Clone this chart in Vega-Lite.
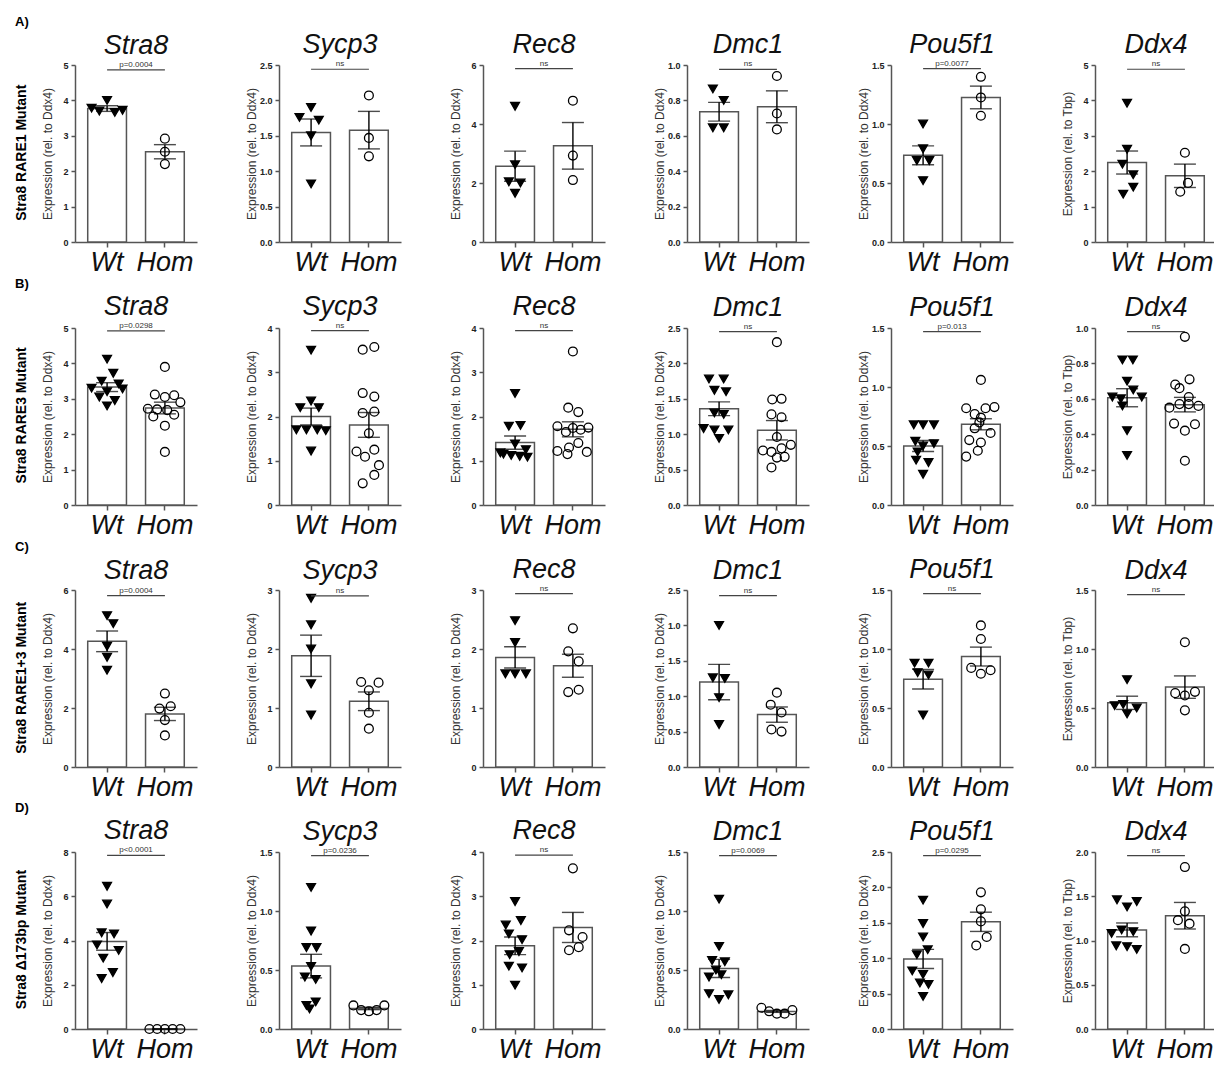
{
"$schema":"https://vega.github.io/schema/vega-lite/v6.json",
"padding":{"left":14,"top":15,"right":0,"bottom":0},
"spacing":2,
"config":{
 "view":{"stroke":null},
 "font":"Liberation Sans",
 "title":{"fontSize":27,"fontStyle":"italic","fontWeight":"normal","color":"#111","offset":1,"font":"Liberation Sans"},
 "axis":{"grid":false,"domainColor":"#555","domainWidth":1.5,"tickColor":"#555","tickWidth":1.5},
 "axisX":{"tickSize":5,"labelFontSize":27,"labelFontStyle":"italic","labelColor":"#111","labelPadding":2,"labelAngle":0,"labelFont":"Liberation Sans"},
 "axisY":{"tickSize":4,"labelFontWeight":"bold","labelFontSize":9,"labelColor":"#222","labelPadding":3,"labelOverlap":false,"minExtent":20,"maxExtent":20,"titleFontSize":12,"titleFontWeight":"normal","titleColor":"#333","titlePadding":1,"titleFont":"Liberation Sans Narrow, Liberation Sans"},
 "bar":{"fill":"white","stroke":"#555","strokeWidth":1.5},
 "point":{"stroke":"black","strokeWidth":1.3,"opacity":1,"size":78},
 "rule":{"color":"#444","strokeWidth":1.2},
 "text":{"baseline":"bottom","dy":-1,"fontSize":8,"color":"#333"},
 "legend":{"disable":true}
},
"datasets":{
"sum":[
{"panel":"A1","group":"Wt","mean":3.77,"sem":0.08},{"panel":"A1","group":"Hom","mean":2.55,"sem":0.2},
{"panel":"A2","group":"Wt","mean":1.547,"sem":0.19},{"panel":"A2","group":"Hom","mean":1.58,"sem":0.265},
{"panel":"A3","group":"Wt","mean":2.57,"sem":0.51},{"panel":"A3","group":"Hom","mean":3.26,"sem":0.79},
{"panel":"A4","group":"Wt","mean":0.736,"sem":0.053},{"panel":"A4","group":"Hom","mean":0.764,"sem":0.09},
{"panel":"A5","group":"Wt","mean":0.735,"sem":0.08},{"panel":"A5","group":"Hom","mean":1.225,"sem":0.096},
{"panel":"A6","group":"Wt","mean":2.245,"sem":0.325},{"panel":"A6","group":"Hom","mean":1.87,"sem":0.33},
{"panel":"B1","group":"Wt","mean":3.33,"sem":0.125},{"panel":"B1","group":"Hom","mean":2.74,"sem":0.165},
{"panel":"B2","group":"Wt","mean":2.0,"sem":0.19},{"panel":"B2","group":"Hom","mean":1.81,"sem":0.28},
{"panel":"B3","group":"Wt","mean":1.41,"sem":0.15},{"panel":"B3","group":"Hom","mean":1.71,"sem":0.17},
{"panel":"B4","group":"Wt","mean":1.36,"sem":0.097},{"panel":"B4","group":"Hom","mean":1.056,"sem":0.137},
{"panel":"B5","group":"Wt","mean":0.5,"sem":0.047},{"panel":"B5","group":"Hom","mean":0.684,"sem":0.047},
{"panel":"B6","group":"Wt","mean":0.606,"sem":0.051},{"panel":"B6","group":"Hom","mean":0.567,"sem":0.041},
{"panel":"C1","group":"Wt","mean":4.26,"sem":0.35},{"panel":"C1","group":"Hom","mean":1.8,"sem":0.225},
{"panel":"C2","group":"Wt","mean":1.885,"sem":0.35},{"panel":"C2","group":"Hom","mean":1.114,"sem":0.158},
{"panel":"C3","group":"Wt","mean":1.857,"sem":0.18},{"panel":"C3","group":"Hom","mean":1.716,"sem":0.195},
{"panel":"C4","group":"Wt","mean":1.2,"sem":0.25},{"panel":"C4","group":"Hom","mean":0.74,"sem":0.108},
{"panel":"C5","group":"Wt","mean":0.744,"sem":0.083},{"panel":"C5","group":"Hom","mean":0.936,"sem":0.08},
{"panel":"C6","group":"Wt","mean":0.544,"sem":0.056},{"panel":"C6","group":"Hom","mean":0.677,"sem":0.095},
{"panel":"D1","group":"Wt","mean":3.96,"sem":0.4},{"panel":"D1","group":"Hom","mean":0.0,"sem":0.0},
{"panel":"D2","group":"Wt","mean":0.533,"sem":0.1},{"panel":"D2","group":"Hom","mean":0.174,"sem":0.01},
{"panel":"D3","group":"Wt","mean":1.88,"sem":0.2},{"panel":"D3","group":"Hom","mean":2.295,"sem":0.34},
{"panel":"D4","group":"Wt","mean":0.513,"sem":0.077},{"panel":"D4","group":"Hom","mean":0.149,"sem":0.008},
{"panel":"D5","group":"Wt","mean":0.99,"sem":0.135},{"panel":"D5","group":"Hom","mean":1.514,"sem":0.136},
{"panel":"D6","group":"Wt","mean":1.12,"sem":0.078},{"panel":"D6","group":"Hom","mean":1.28,"sem":0.15}
],
"sig":[
{"panel":"A1","bracket":4.86,"label":"p=0.0004"},{"panel":"A2","bracket":2.44,"label":"ns"},{"panel":"A3","bracket":5.88,"label":"ns"},{"panel":"A4","bracket":0.975,"label":"ns"},{"panel":"A5","bracket":1.47,"label":"p=0.0077"},{"panel":"A6","bracket":4.88,"label":"ns"},
{"panel":"B1","bracket":4.92,"label":"p=0.0298"},{"panel":"B2","bracket":3.94,"label":"ns"},{"panel":"B3","bracket":3.94,"label":"ns"},{"panel":"B4","bracket":2.45,"label":"ns"},{"panel":"B5","bracket":1.47,"label":"p=0.013"},{"panel":"B6","bracket":0.98,"label":"ns"},
{"panel":"C1","bracket":5.81,"label":"p=0.0004"},{"panel":"C2","bracket":2.9,"label":"ns"},{"panel":"C3","bracket":2.94,"label":"ns"},{"panel":"C4","bracket":2.42,"label":"ns"},{"panel":"C5","bracket":1.47,"label":"ns"},{"panel":"C6","bracket":1.46,"label":"ns"},
{"panel":"D1","bracket":7.85,"label":"p<0.0001"},{"panel":"D2","bracket":1.47,"label":"p=0.0236"},{"panel":"D3","bracket":3.93,"label":"ns"},{"panel":"D4","bracket":1.47,"label":"p=0.0069"},{"panel":"D5","bracket":2.45,"label":"p=0.0295"},{"panel":"D6","bracket":1.96,"label":"ns"}
],
"pts":[
{"panel":"A1","group":"Wt","value":3.78,"lane":-2},{"panel":"A1","group":"Wt","value":3.7,"lane":-1},{"panel":"A1","group":"Wt","value":4.0,"lane":0},{"panel":"A1","group":"Wt","value":3.66,"lane":1},{"panel":"A1","group":"Wt","value":3.72,"lane":2},
{"panel":"A1","group":"Hom","value":2.92,"lane":0},{"panel":"A1","group":"Hom","value":2.55,"lane":0},{"panel":"A1","group":"Hom","value":2.2,"lane":0},
{"panel":"A2","group":"Wt","value":1.9,"lane":0},{"panel":"A2","group":"Wt","value":1.76,"lane":-1.5},{"panel":"A2","group":"Wt","value":1.72,"lane":1},{"panel":"A2","group":"Wt","value":1.5,"lane":0},{"panel":"A2","group":"Wt","value":0.82,"lane":0},
{"panel":"A2","group":"Hom","value":2.07,"lane":0},{"panel":"A2","group":"Hom","value":1.47,"lane":0},{"panel":"A2","group":"Hom","value":1.21,"lane":0},
{"panel":"A3","group":"Wt","value":4.6,"lane":0},{"panel":"A3","group":"Wt","value":2.62,"lane":0},{"panel":"A3","group":"Wt","value":2.04,"lane":-0.8},{"panel":"A3","group":"Wt","value":2.0,"lane":0.7},{"panel":"A3","group":"Wt","value":1.65,"lane":0},
{"panel":"A3","group":"Hom","value":4.79,"lane":0},{"panel":"A3","group":"Hom","value":2.93,"lane":0},{"panel":"A3","group":"Hom","value":2.1,"lane":0},
{"panel":"A4","group":"Wt","value":0.865,"lane":-0.8},{"panel":"A4","group":"Wt","value":0.8,"lane":0.6},{"panel":"A4","group":"Wt","value":0.645,"lane":-0.8},{"panel":"A4","group":"Wt","value":0.645,"lane":0.6},
{"panel":"A4","group":"Hom","value":0.938,"lane":0},{"panel":"A4","group":"Hom","value":0.726,"lane":0},{"panel":"A4","group":"Hom","value":0.636,"lane":0},
{"panel":"A5","group":"Wt","value":1.0,"lane":0},{"panel":"A5","group":"Wt","value":0.79,"lane":0},{"panel":"A5","group":"Wt","value":0.69,"lane":-0.8},{"panel":"A5","group":"Wt","value":0.69,"lane":0.8},{"panel":"A5","group":"Wt","value":0.52,"lane":0},
{"panel":"A5","group":"Hom","value":1.4,"lane":0},{"panel":"A5","group":"Hom","value":1.225,"lane":0},{"panel":"A5","group":"Hom","value":1.07,"lane":0},
{"panel":"A6","group":"Wt","value":3.92,"lane":0},{"panel":"A6","group":"Wt","value":2.62,"lane":0},{"panel":"A6","group":"Wt","value":2.2,"lane":-0.6},{"panel":"A6","group":"Wt","value":1.9,"lane":0.8},{"panel":"A6","group":"Wt","value":1.55,"lane":0.8},{"panel":"A6","group":"Wt","value":1.35,"lane":-0.5},
{"panel":"A6","group":"Hom","value":2.52,"lane":0},{"panel":"A6","group":"Hom","value":1.67,"lane":0.4},{"panel":"A6","group":"Hom","value":1.42,"lane":-0.6},
{"panel":"B1","group":"Wt","value":4.12,"lane":0},{"panel":"B1","group":"Wt","value":3.72,"lane":0.8},{"panel":"B1","group":"Wt","value":3.5,"lane":-0.7},{"panel":"B1","group":"Wt","value":3.42,"lane":1.5},{"panel":"B1","group":"Wt","value":3.3,"lane":-2},{"panel":"B1","group":"Wt","value":3.28,"lane":2},{"panel":"B1","group":"Wt","value":3.2,"lane":0},{"panel":"B1","group":"Wt","value":3.05,"lane":-1},{"panel":"B1","group":"Wt","value":2.95,"lane":1},{"panel":"B1","group":"Wt","value":2.8,"lane":0},
{"panel":"B1","group":"Hom","value":3.9,"lane":0},{"panel":"B1","group":"Hom","value":3.12,"lane":-1.3},{"panel":"B1","group":"Hom","value":3.05,"lane":0},{"panel":"B1","group":"Hom","value":3.1,"lane":1.2},{"panel":"B1","group":"Hom","value":2.9,"lane":2},{"panel":"B1","group":"Hom","value":2.72,"lane":-2.2},{"panel":"B1","group":"Hom","value":2.7,"lane":-1},{"panel":"B1","group":"Hom","value":2.68,"lane":0.3},{"panel":"B1","group":"Hom","value":2.55,"lane":1.2},{"panel":"B1","group":"Hom","value":2.5,"lane":-1.5},{"panel":"B1","group":"Hom","value":2.24,"lane":0},{"panel":"B1","group":"Hom","value":1.5,"lane":0},
{"panel":"B2","group":"Wt","value":3.5,"lane":0},{"panel":"B2","group":"Wt","value":2.35,"lane":0},{"panel":"B2","group":"Wt","value":2.2,"lane":-1.4},{"panel":"B2","group":"Wt","value":2.2,"lane":1},{"panel":"B2","group":"Wt","value":1.7,"lane":-1.9},{"panel":"B2","group":"Wt","value":1.7,"lane":-0.6},{"panel":"B2","group":"Wt","value":1.7,"lane":0.8},{"panel":"B2","group":"Wt","value":1.68,"lane":1.9},{"panel":"B2","group":"Wt","value":1.22,"lane":0},
{"panel":"B2","group":"Hom","value":3.51,"lane":-0.8},{"panel":"B2","group":"Hom","value":3.57,"lane":0.7},{"panel":"B2","group":"Hom","value":2.53,"lane":-0.8},{"panel":"B2","group":"Hom","value":2.45,"lane":0.7},{"panel":"B2","group":"Hom","value":2.08,"lane":-0.8},{"panel":"B2","group":"Hom","value":2.11,"lane":0.7},{"panel":"B2","group":"Hom","value":1.62,"lane":0},{"panel":"B2","group":"Hom","value":1.21,"lane":-1.6},{"panel":"B2","group":"Hom","value":1.25,"lane":0.7},{"panel":"B2","group":"Hom","value":1.09,"lane":-0.5},{"panel":"B2","group":"Hom","value":0.9,"lane":1.3},{"panel":"B2","group":"Hom","value":0.68,"lane":0.7},{"panel":"B2","group":"Hom","value":0.49,"lane":-0.8},
{"panel":"B3","group":"Wt","value":2.52,"lane":0},{"panel":"B3","group":"Wt","value":1.78,"lane":-0.8},{"panel":"B3","group":"Wt","value":1.8,"lane":0.7},{"panel":"B3","group":"Wt","value":1.38,"lane":0},{"panel":"B3","group":"Wt","value":1.25,"lane":1.4},{"panel":"B3","group":"Wt","value":1.15,"lane":-1.5},{"panel":"B3","group":"Wt","value":1.12,"lane":-0.5},{"panel":"B3","group":"Wt","value":1.1,"lane":0.6},{"panel":"B3","group":"Wt","value":1.08,"lane":1.6},{"panel":"B3","group":"Wt","value":1.18,"lane":-1.9},
{"panel":"B3","group":"Hom","value":3.47,"lane":0},{"panel":"B3","group":"Hom","value":2.2,"lane":-0.6},{"panel":"B3","group":"Hom","value":2.1,"lane":0.7},{"panel":"B3","group":"Hom","value":1.78,"lane":-2},{"panel":"B3","group":"Hom","value":1.65,"lane":-0.9},{"panel":"B3","group":"Hom","value":1.74,"lane":0},{"panel":"B3","group":"Hom","value":1.7,"lane":1},{"panel":"B3","group":"Hom","value":1.75,"lane":2},{"panel":"B3","group":"Hom","value":1.4,"lane":0.7},{"panel":"B3","group":"Hom","value":1.3,"lane":-0.5},{"panel":"B3","group":"Hom","value":1.22,"lane":-2},{"panel":"B3","group":"Hom","value":1.15,"lane":-0.7},{"panel":"B3","group":"Hom","value":1.2,"lane":1.8},
{"panel":"B4","group":"Wt","value":1.78,"lane":-1.3},{"panel":"B4","group":"Wt","value":1.78,"lane":0.6},{"panel":"B4","group":"Wt","value":1.62,"lane":-0.6},{"panel":"B4","group":"Wt","value":1.6,"lane":0.9},{"panel":"B4","group":"Wt","value":1.3,"lane":-0.6},{"panel":"B4","group":"Wt","value":1.28,"lane":0.6},{"panel":"B4","group":"Wt","value":1.08,"lane":-2},{"panel":"B4","group":"Wt","value":1.06,"lane":-0.6},{"panel":"B4","group":"Wt","value":1.06,"lane":1.2},{"panel":"B4","group":"Wt","value":0.94,"lane":0},
{"panel":"B4","group":"Hom","value":2.3,"lane":0},{"panel":"B4","group":"Hom","value":1.49,"lane":-0.6},{"panel":"B4","group":"Hom","value":1.5,"lane":0.6},{"panel":"B4","group":"Hom","value":1.28,"lane":-0.7},{"panel":"B4","group":"Hom","value":1.24,"lane":0.6},{"panel":"B4","group":"Hom","value":0.96,"lane":0},{"panel":"B4","group":"Hom","value":0.77,"lane":-1.8},{"panel":"B4","group":"Hom","value":0.75,"lane":-0.7},{"panel":"B4","group":"Hom","value":0.8,"lane":0.6},{"panel":"B4","group":"Hom","value":0.85,"lane":1.8},{"panel":"B4","group":"Hom","value":0.67,"lane":0},{"panel":"B4","group":"Hom","value":0.68,"lane":1},{"panel":"B4","group":"Hom","value":0.53,"lane":-0.7},
{"panel":"B5","group":"Wt","value":0.68,"lane":-1.2},{"panel":"B5","group":"Wt","value":0.68,"lane":0},{"panel":"B5","group":"Wt","value":0.68,"lane":1.4},{"panel":"B5","group":"Wt","value":0.54,"lane":-1},{"panel":"B5","group":"Wt","value":0.52,"lane":1.4},{"panel":"B5","group":"Wt","value":0.5,"lane":0},{"panel":"B5","group":"Wt","value":0.45,"lane":-0.7},{"panel":"B5","group":"Wt","value":0.38,"lane":-0.9},{"panel":"B5","group":"Wt","value":0.36,"lane":0.7},{"panel":"B5","group":"Wt","value":0.26,"lane":0},
{"panel":"B5","group":"Hom","value":1.06,"lane":0},{"panel":"B5","group":"Hom","value":0.82,"lane":-1.9},{"panel":"B5","group":"Hom","value":0.77,"lane":-0.8},{"panel":"B5","group":"Hom","value":0.82,"lane":0.6},{"panel":"B5","group":"Hom","value":0.83,"lane":1.75},{"panel":"B5","group":"Hom","value":0.74,"lane":0},{"panel":"B5","group":"Hom","value":0.7,"lane":-0.2},{"panel":"B5","group":"Hom","value":0.65,"lane":-0.8},{"panel":"B5","group":"Hom","value":0.61,"lane":1.25},{"panel":"B5","group":"Hom","value":0.55,"lane":-1.5},{"panel":"B5","group":"Hom","value":0.53,"lane":0},{"panel":"B5","group":"Hom","value":0.46,"lane":-0.4},{"panel":"B5","group":"Hom","value":0.41,"lane":-1.9},
{"panel":"B6","group":"Wt","value":0.82,"lane":-0.6},{"panel":"B6","group":"Wt","value":0.82,"lane":0.75},{"panel":"B6","group":"Wt","value":0.7,"lane":0},{"panel":"B6","group":"Wt","value":0.65,"lane":0.8},{"panel":"B6","group":"Wt","value":0.61,"lane":-1.9},{"panel":"B6","group":"Wt","value":0.6,"lane":-0.8},{"panel":"B6","group":"Wt","value":0.61,"lane":1.9},{"panel":"B6","group":"Wt","value":0.56,"lane":-0.6},{"panel":"B6","group":"Wt","value":0.42,"lane":0},{"panel":"B6","group":"Wt","value":0.28,"lane":0},
{"panel":"B6","group":"Hom","value":0.95,"lane":0},{"panel":"B6","group":"Hom","value":0.71,"lane":0.6},{"panel":"B6","group":"Hom","value":0.68,"lane":-1.25},{"panel":"B6","group":"Hom","value":0.66,"lane":-0.7},{"panel":"B6","group":"Hom","value":0.61,"lane":0.5},{"panel":"B6","group":"Hom","value":0.55,"lane":-2},{"panel":"B6","group":"Hom","value":0.57,"lane":-0.7},{"panel":"B6","group":"Hom","value":0.57,"lane":0.5},{"panel":"B6","group":"Hom","value":0.56,"lane":1.75},{"panel":"B6","group":"Hom","value":0.46,"lane":-1.4},{"panel":"B6","group":"Hom","value":0.42,"lane":0},{"panel":"B6","group":"Hom","value":0.456,"lane":1.3},{"panel":"B6","group":"Hom","value":0.25,"lane":0},
{"panel":"C1","group":"Wt","value":5.13,"lane":0},{"panel":"C1","group":"Wt","value":4.86,"lane":0.8},{"panel":"C1","group":"Wt","value":4.09,"lane":0},{"panel":"C1","group":"Wt","value":3.72,"lane":0},{"panel":"C1","group":"Wt","value":3.28,"lane":0},
{"panel":"C1","group":"Hom","value":2.49,"lane":0},{"panel":"C1","group":"Hom","value":1.98,"lane":-0.7},{"panel":"C1","group":"Hom","value":2.06,"lane":0.75},{"panel":"C1","group":"Hom","value":1.59,"lane":0},{"panel":"C1","group":"Hom","value":1.07,"lane":0},
{"panel":"C2","group":"Wt","value":2.86,"lane":0},{"panel":"C2","group":"Wt","value":2.41,"lane":0},{"panel":"C2","group":"Wt","value":2.0,"lane":0},{"panel":"C2","group":"Wt","value":1.41,"lane":0},{"panel":"C2","group":"Wt","value":0.88,"lane":0},
{"panel":"C2","group":"Hom","value":1.44,"lane":-1},{"panel":"C2","group":"Hom","value":1.3,"lane":0},{"panel":"C2","group":"Hom","value":1.43,"lane":1.25},{"panel":"C2","group":"Hom","value":0.92,"lane":0},{"panel":"C2","group":"Hom","value":0.65,"lane":0},
{"panel":"C3","group":"Wt","value":2.48,"lane":0},{"panel":"C3","group":"Wt","value":2.11,"lane":0},{"panel":"C3","group":"Wt","value":1.58,"lane":-1.25},{"panel":"C3","group":"Wt","value":1.58,"lane":0},{"panel":"C3","group":"Wt","value":1.58,"lane":1.4},
{"panel":"C3","group":"Hom","value":2.35,"lane":0},{"panel":"C3","group":"Hom","value":1.96,"lane":-0.6},{"panel":"C3","group":"Hom","value":1.79,"lane":0.75},{"panel":"C3","group":"Hom","value":1.27,"lane":-0.6},{"panel":"C3","group":"Hom","value":1.31,"lane":0.75},
{"panel":"C4","group":"Wt","value":2.0,"lane":0},{"panel":"C4","group":"Wt","value":1.26,"lane":-0.8},{"panel":"C4","group":"Wt","value":1.25,"lane":0.75},{"panel":"C4","group":"Wt","value":0.98,"lane":0},{"panel":"C4","group":"Wt","value":0.6,"lane":0},
{"panel":"C4","group":"Hom","value":1.05,"lane":0},{"panel":"C4","group":"Hom","value":0.88,"lane":-0.8},{"panel":"C4","group":"Hom","value":0.77,"lane":0.6},{"panel":"C4","group":"Hom","value":0.53,"lane":-0.7},{"panel":"C4","group":"Hom","value":0.5,"lane":0.6},
{"panel":"C5","group":"Wt","value":0.88,"lane":-1.1},{"panel":"C5","group":"Wt","value":0.88,"lane":0.7},{"panel":"C5","group":"Wt","value":0.8,"lane":-0.7},{"panel":"C5","group":"Wt","value":0.78,"lane":0.7},{"panel":"C5","group":"Wt","value":0.44,"lane":0},
{"panel":"C5","group":"Hom","value":1.2,"lane":0},{"panel":"C5","group":"Hom","value":1.085,"lane":0},{"panel":"C5","group":"Hom","value":0.84,"lane":-1.25},{"panel":"C5","group":"Hom","value":0.79,"lane":0},{"panel":"C5","group":"Hom","value":0.82,"lane":1.25},
{"panel":"C6","group":"Wt","value":0.74,"lane":0},{"panel":"C6","group":"Wt","value":0.53,"lane":-0.5},{"panel":"C6","group":"Wt","value":0.52,"lane":-1.6},{"panel":"C6","group":"Wt","value":0.5,"lane":1.25},{"panel":"C6","group":"Wt","value":0.45,"lane":0},
{"panel":"C6","group":"Hom","value":1.057,"lane":0},{"panel":"C6","group":"Hom","value":0.626,"lane":-1.25},{"panel":"C6","group":"Hom","value":0.606,"lane":0},{"panel":"C6","group":"Hom","value":0.637,"lane":1.3},{"panel":"C6","group":"Hom","value":0.48,"lane":0},
{"panel":"D1","group":"Wt","value":6.45,"lane":0},{"panel":"D1","group":"Wt","value":5.65,"lane":0},{"panel":"D1","group":"Wt","value":4.35,"lane":-0.7},{"panel":"D1","group":"Wt","value":4.3,"lane":0.9},{"panel":"D1","group":"Wt","value":3.8,"lane":-1.3},{"panel":"D1","group":"Wt","value":3.55,"lane":1.5},{"panel":"D1","group":"Wt","value":3.2,"lane":-0.5},{"panel":"D1","group":"Wt","value":2.55,"lane":0.75},{"panel":"D1","group":"Wt","value":2.28,"lane":-0.7},
{"panel":"D1","group":"Hom","value":0,"lane":-2},{"panel":"D1","group":"Hom","value":0,"lane":-1},{"panel":"D1","group":"Hom","value":0,"lane":0},{"panel":"D1","group":"Hom","value":0,"lane":1},{"panel":"D1","group":"Hom","value":0,"lane":2},
{"panel":"D2","group":"Wt","value":1.2,"lane":0},{"panel":"D2","group":"Wt","value":0.83,"lane":0},{"panel":"D2","group":"Wt","value":0.69,"lane":-0.6},{"panel":"D2","group":"Wt","value":0.69,"lane":0.7},{"panel":"D2","group":"Wt","value":0.53,"lane":0},{"panel":"D2","group":"Wt","value":0.44,"lane":-0.8},{"panel":"D2","group":"Wt","value":0.42,"lane":0.6},{"panel":"D2","group":"Wt","value":0.23,"lane":0.6},{"panel":"D2","group":"Wt","value":0.2,"lane":-0.6},{"panel":"D2","group":"Wt","value":0.17,"lane":-0.2},
{"panel":"D2","group":"Hom","value":0.2,"lane":-2},{"panel":"D2","group":"Hom","value":0.16,"lane":-1},{"panel":"D2","group":"Hom","value":0.15,"lane":0},{"panel":"D2","group":"Hom","value":0.16,"lane":1},{"panel":"D2","group":"Hom","value":0.2,"lane":2},
{"panel":"D3","group":"Wt","value":2.88,"lane":0},{"panel":"D3","group":"Wt","value":2.45,"lane":0.75},{"panel":"D3","group":"Wt","value":2.35,"lane":-1.2},{"panel":"D3","group":"Wt","value":2.15,"lane":-0.8},{"panel":"D3","group":"Wt","value":2.02,"lane":0.9},{"panel":"D3","group":"Wt","value":1.75,"lane":0.5},{"panel":"D3","group":"Wt","value":1.68,"lane":-0.7},{"panel":"D3","group":"Wt","value":1.42,"lane":-0.8},{"panel":"D3","group":"Wt","value":1.38,"lane":0.9},{"panel":"D3","group":"Wt","value":0.99,"lane":0},
{"panel":"D3","group":"Hom","value":3.63,"lane":0},{"panel":"D3","group":"Hom","value":2.23,"lane":-0.5},{"panel":"D3","group":"Hom","value":2.08,"lane":1.25},{"panel":"D3","group":"Hom","value":1.78,"lane":-0.5},{"panel":"D3","group":"Hom","value":1.85,"lane":0.75},
{"panel":"D4","group":"Wt","value":1.1,"lane":0},{"panel":"D4","group":"Wt","value":0.7,"lane":0},{"panel":"D4","group":"Wt","value":0.58,"lane":-0.9},{"panel":"D4","group":"Wt","value":0.57,"lane":0.75},{"panel":"D4","group":"Wt","value":0.5,"lane":-0.4},{"panel":"D4","group":"Wt","value":0.46,"lane":0.3},{"panel":"D4","group":"Wt","value":0.44,"lane":-1.3},{"panel":"D4","group":"Wt","value":0.3,"lane":-1.3},{"panel":"D4","group":"Wt","value":0.29,"lane":1.2},{"panel":"D4","group":"Wt","value":0.25,"lane":0},
{"panel":"D4","group":"Hom","value":0.18,"lane":-2},{"panel":"D4","group":"Hom","value":0.15,"lane":-1},{"panel":"D4","group":"Hom","value":0.13,"lane":0},{"panel":"D4","group":"Hom","value":0.13,"lane":1},{"panel":"D4","group":"Hom","value":0.16,"lane":2},
{"panel":"D5","group":"Wt","value":1.82,"lane":0},{"panel":"D5","group":"Wt","value":1.49,"lane":0},{"panel":"D5","group":"Wt","value":1.3,"lane":0},{"panel":"D5","group":"Wt","value":1.05,"lane":-0.8},{"panel":"D5","group":"Wt","value":1.12,"lane":0.6},{"panel":"D5","group":"Wt","value":0.82,"lane":-1.4},{"panel":"D5","group":"Wt","value":0.77,"lane":0},{"panel":"D5","group":"Wt","value":0.65,"lane":-0.4},{"panel":"D5","group":"Wt","value":0.63,"lane":0.7},{"panel":"D5","group":"Wt","value":0.46,"lane":0},
{"panel":"D5","group":"Hom","value":1.93,"lane":0},{"panel":"D5","group":"Hom","value":1.69,"lane":0},{"panel":"D5","group":"Hom","value":1.52,"lane":0},{"panel":"D5","group":"Hom","value":1.18,"lane":-0.6},{"panel":"D5","group":"Hom","value":1.3,"lane":0.75},
{"panel":"D6","group":"Wt","value":1.46,"lane":-1.3},{"panel":"D6","group":"Wt","value":1.44,"lane":1.25},{"panel":"D6","group":"Wt","value":1.38,"lane":0},{"panel":"D6","group":"Wt","value":1.12,"lane":-0.7},{"panel":"D6","group":"Wt","value":1.1,"lane":0.8},{"panel":"D6","group":"Wt","value":1.08,"lane":-2},{"panel":"D6","group":"Wt","value":0.94,"lane":-1.4},{"panel":"D6","group":"Wt","value":0.93,"lane":0},{"panel":"D6","group":"Wt","value":0.9,"lane":1.25},
{"panel":"D6","group":"Hom","value":1.83,"lane":0},{"panel":"D6","group":"Hom","value":1.33,"lane":0},{"panel":"D6","group":"Hom","value":1.23,"lane":-0.9},{"panel":"D6","group":"Hom","value":1.19,"lane":0.6},{"panel":"D6","group":"Hom","value":0.905,"lane":0}
]
},
"vconcat":[
{"title":{"text":"A)","anchor":"start","fontSize":13,"fontStyle":"normal","fontWeight":"bold","offset":2,"color":"black"},
"vconcat":[{"title":{"text":"Stra8 RARE1 Mutant","orient":"left","anchor":"middle","fontSize":14,"fontStyle":"normal","fontWeight":"bold","offset":12,"color":"black"},"spacing":48,
"hconcat":[
{"title":"Stra8","width":122,"height":177,"resolve":{"scale":{"xOffset":"independent"}},"layer":[
{"data":{"name":"sum"},"transform":[{"filter":"datum.panel==='A1'"}],"mark":"bar","encoding":{"x":{"field":"group","type":"nominal","scale":{"domain":["Wt","Hom"],"paddingInner":0.33,"paddingOuter":0.22},"axis":{"title":null}},"y":{"field":"mean","type":"quantitative","scale":{"domain":[0,5],"nice":false},"axis":{"title":"Expression (rel. to Ddx4)","values":[0,1,2,3,4,5],"format":"d"}}}},
{"data":{"name":"pts"},"transform":[{"filter":"datum.panel==='A1'"}],"mark":"point","encoding":{"x":{"field":"group","type":"nominal","axis":{"title":null}},"xOffset":{"field":"lane","type":"quantitative","scale":{"domain":[-2.5,2.5],"range":[0,38.7]}},"y":{"field":"value","type":"quantitative","axis":{"title":"Expression (rel. to Ddx4)","values":[0,1,2,3,4,5],"format":"d"}},"shape":{"field":"group","type":"nominal","scale":{"domain":["Wt","Hom"],"range":["triangle-down","circle"]}},"fill":{"field":"group","type":"nominal","scale":{"domain":["Wt","Hom"],"range":["black","transparent"]}}}},
{"data":{"name":"sum"},"transform":[{"filter":"datum.panel==='A1'"}],"mark":{"type":"errorbar","color":"black","thickness":1.4,"ticks":{"size":22,"thickness":1.4}},"encoding":{"x":{"field":"group","type":"nominal","axis":{"title":null}},"y":{"field":"mean","type":"quantitative","axis":{"title":"Expression (rel. to Ddx4)","values":[0,1,2,3,4,5],"format":"d"}},"yError":{"field":"sem"}}},
{"data":{"name":"sig"},"transform":[{"filter":"datum.panel==='A1'"}],"mark":"rule","encoding":{"x":{"datum":"Wt"},"x2":{"datum":"Hom"},"y":{"field":"bracket","type":"quantitative","axis":{"title":"Expression (rel. to Ddx4)","values":[0,1,2,3,4,5],"format":"d"}}}},
{"data":{"name":"sig"},"transform":[{"filter":"datum.panel==='A1'"}],"mark":"text","encoding":{"text":{"field":"label"},"y":{"field":"bracket","type":"quantitative","axis":{"title":"Expression (rel. to Ddx4)","values":[0,1,2,3,4,5],"format":"d"}}}}
]},
{"title":"Sycp3","width":122,"height":177,"resolve":{"scale":{"xOffset":"independent"}},"layer":[
{"data":{"name":"sum"},"transform":[{"filter":"datum.panel==='A2'"}],"mark":"bar","encoding":{"x":{"field":"group","type":"nominal","scale":{"domain":["Wt","Hom"],"paddingInner":0.33,"paddingOuter":0.22},"axis":{"title":null}},"y":{"field":"mean","type":"quantitative","scale":{"domain":[0,2.5],"nice":false},"axis":{"title":"Expression (rel. to Ddx4)","values":[0,0.5,1,1.5,2,2.5],"format":".1f"}}}},
{"data":{"name":"pts"},"transform":[{"filter":"datum.panel==='A2'"}],"mark":"point","encoding":{"x":{"field":"group","type":"nominal","axis":{"title":null}},"xOffset":{"field":"lane","type":"quantitative","scale":{"domain":[-2.5,2.5],"range":[0,38.7]}},"y":{"field":"value","type":"quantitative","axis":{"title":"Expression (rel. to Ddx4)","values":[0,0.5,1,1.5,2,2.5],"format":".1f"}},"shape":{"field":"group","type":"nominal","scale":{"domain":["Wt","Hom"],"range":["triangle-down","circle"]}},"fill":{"field":"group","type":"nominal","scale":{"domain":["Wt","Hom"],"range":["black","transparent"]}}}},
{"data":{"name":"sum"},"transform":[{"filter":"datum.panel==='A2'"}],"mark":{"type":"errorbar","color":"black","thickness":1.4,"ticks":{"size":22,"thickness":1.4}},"encoding":{"x":{"field":"group","type":"nominal","axis":{"title":null}},"y":{"field":"mean","type":"quantitative","axis":{"title":"Expression (rel. to Ddx4)","values":[0,0.5,1,1.5,2,2.5],"format":".1f"}},"yError":{"field":"sem"}}},
{"data":{"name":"sig"},"transform":[{"filter":"datum.panel==='A2'"}],"mark":"rule","encoding":{"x":{"datum":"Wt"},"x2":{"datum":"Hom"},"y":{"field":"bracket","type":"quantitative","axis":{"title":"Expression (rel. to Ddx4)","values":[0,0.5,1,1.5,2,2.5],"format":".1f"}}}},
{"data":{"name":"sig"},"transform":[{"filter":"datum.panel==='A2'"}],"mark":"text","encoding":{"text":{"field":"label"},"y":{"field":"bracket","type":"quantitative","axis":{"title":"Expression (rel. to Ddx4)","values":[0,0.5,1,1.5,2,2.5],"format":".1f"}}}}
]},
{"title":"Rec8","width":122,"height":177,"resolve":{"scale":{"xOffset":"independent"}},"layer":[
{"data":{"name":"sum"},"transform":[{"filter":"datum.panel==='A3'"}],"mark":"bar","encoding":{"x":{"field":"group","type":"nominal","scale":{"domain":["Wt","Hom"],"paddingInner":0.33,"paddingOuter":0.22},"axis":{"title":null}},"y":{"field":"mean","type":"quantitative","scale":{"domain":[0,6],"nice":false},"axis":{"title":"Expression (rel. to Ddx4)","values":[0,2,4,6],"format":"d"}}}},
{"data":{"name":"pts"},"transform":[{"filter":"datum.panel==='A3'"}],"mark":"point","encoding":{"x":{"field":"group","type":"nominal","axis":{"title":null}},"xOffset":{"field":"lane","type":"quantitative","scale":{"domain":[-2.5,2.5],"range":[0,38.7]}},"y":{"field":"value","type":"quantitative","axis":{"title":"Expression (rel. to Ddx4)","values":[0,2,4,6],"format":"d"}},"shape":{"field":"group","type":"nominal","scale":{"domain":["Wt","Hom"],"range":["triangle-down","circle"]}},"fill":{"field":"group","type":"nominal","scale":{"domain":["Wt","Hom"],"range":["black","transparent"]}}}},
{"data":{"name":"sum"},"transform":[{"filter":"datum.panel==='A3'"}],"mark":{"type":"errorbar","color":"black","thickness":1.4,"ticks":{"size":22,"thickness":1.4}},"encoding":{"x":{"field":"group","type":"nominal","axis":{"title":null}},"y":{"field":"mean","type":"quantitative","axis":{"title":"Expression (rel. to Ddx4)","values":[0,2,4,6],"format":"d"}},"yError":{"field":"sem"}}},
{"data":{"name":"sig"},"transform":[{"filter":"datum.panel==='A3'"}],"mark":"rule","encoding":{"x":{"datum":"Wt"},"x2":{"datum":"Hom"},"y":{"field":"bracket","type":"quantitative","axis":{"title":"Expression (rel. to Ddx4)","values":[0,2,4,6],"format":"d"}}}},
{"data":{"name":"sig"},"transform":[{"filter":"datum.panel==='A3'"}],"mark":"text","encoding":{"text":{"field":"label"},"y":{"field":"bracket","type":"quantitative","axis":{"title":"Expression (rel. to Ddx4)","values":[0,2,4,6],"format":"d"}}}}
]},
{"title":"Dmc1","width":122,"height":177,"resolve":{"scale":{"xOffset":"independent"}},"layer":[
{"data":{"name":"sum"},"transform":[{"filter":"datum.panel==='A4'"}],"mark":"bar","encoding":{"x":{"field":"group","type":"nominal","scale":{"domain":["Wt","Hom"],"paddingInner":0.33,"paddingOuter":0.22},"axis":{"title":null}},"y":{"field":"mean","type":"quantitative","scale":{"domain":[0,1],"nice":false},"axis":{"title":"Expression (rel. to Ddx4)","values":[0,0.2,0.4,0.6,0.8,1],"format":".1f"}}}},
{"data":{"name":"pts"},"transform":[{"filter":"datum.panel==='A4'"}],"mark":"point","encoding":{"x":{"field":"group","type":"nominal","axis":{"title":null}},"xOffset":{"field":"lane","type":"quantitative","scale":{"domain":[-2.5,2.5],"range":[0,38.7]}},"y":{"field":"value","type":"quantitative","axis":{"title":"Expression (rel. to Ddx4)","values":[0,0.2,0.4,0.6,0.8,1],"format":".1f"}},"shape":{"field":"group","type":"nominal","scale":{"domain":["Wt","Hom"],"range":["triangle-down","circle"]}},"fill":{"field":"group","type":"nominal","scale":{"domain":["Wt","Hom"],"range":["black","transparent"]}}}},
{"data":{"name":"sum"},"transform":[{"filter":"datum.panel==='A4'"}],"mark":{"type":"errorbar","color":"black","thickness":1.4,"ticks":{"size":22,"thickness":1.4}},"encoding":{"x":{"field":"group","type":"nominal","axis":{"title":null}},"y":{"field":"mean","type":"quantitative","axis":{"title":"Expression (rel. to Ddx4)","values":[0,0.2,0.4,0.6,0.8,1],"format":".1f"}},"yError":{"field":"sem"}}},
{"data":{"name":"sig"},"transform":[{"filter":"datum.panel==='A4'"}],"mark":"rule","encoding":{"x":{"datum":"Wt"},"x2":{"datum":"Hom"},"y":{"field":"bracket","type":"quantitative","axis":{"title":"Expression (rel. to Ddx4)","values":[0,0.2,0.4,0.6,0.8,1],"format":".1f"}}}},
{"data":{"name":"sig"},"transform":[{"filter":"datum.panel==='A4'"}],"mark":"text","encoding":{"text":{"field":"label"},"y":{"field":"bracket","type":"quantitative","axis":{"title":"Expression (rel. to Ddx4)","values":[0,0.2,0.4,0.6,0.8,1],"format":".1f"}}}}
]},
{"title":"Pou5f1","width":122,"height":177,"resolve":{"scale":{"xOffset":"independent"}},"layer":[
{"data":{"name":"sum"},"transform":[{"filter":"datum.panel==='A5'"}],"mark":"bar","encoding":{"x":{"field":"group","type":"nominal","scale":{"domain":["Wt","Hom"],"paddingInner":0.33,"paddingOuter":0.22},"axis":{"title":null}},"y":{"field":"mean","type":"quantitative","scale":{"domain":[0,1.5],"nice":false},"axis":{"title":"Expression (rel. to Ddx4)","values":[0,0.5,1,1.5],"format":".1f"}}}},
{"data":{"name":"pts"},"transform":[{"filter":"datum.panel==='A5'"}],"mark":"point","encoding":{"x":{"field":"group","type":"nominal","axis":{"title":null}},"xOffset":{"field":"lane","type":"quantitative","scale":{"domain":[-2.5,2.5],"range":[0,38.7]}},"y":{"field":"value","type":"quantitative","axis":{"title":"Expression (rel. to Ddx4)","values":[0,0.5,1,1.5],"format":".1f"}},"shape":{"field":"group","type":"nominal","scale":{"domain":["Wt","Hom"],"range":["triangle-down","circle"]}},"fill":{"field":"group","type":"nominal","scale":{"domain":["Wt","Hom"],"range":["black","transparent"]}}}},
{"data":{"name":"sum"},"transform":[{"filter":"datum.panel==='A5'"}],"mark":{"type":"errorbar","color":"black","thickness":1.4,"ticks":{"size":22,"thickness":1.4}},"encoding":{"x":{"field":"group","type":"nominal","axis":{"title":null}},"y":{"field":"mean","type":"quantitative","axis":{"title":"Expression (rel. to Ddx4)","values":[0,0.5,1,1.5],"format":".1f"}},"yError":{"field":"sem"}}},
{"data":{"name":"sig"},"transform":[{"filter":"datum.panel==='A5'"}],"mark":"rule","encoding":{"x":{"datum":"Wt"},"x2":{"datum":"Hom"},"y":{"field":"bracket","type":"quantitative","axis":{"title":"Expression (rel. to Ddx4)","values":[0,0.5,1,1.5],"format":".1f"}}}},
{"data":{"name":"sig"},"transform":[{"filter":"datum.panel==='A5'"}],"mark":"text","encoding":{"text":{"field":"label"},"y":{"field":"bracket","type":"quantitative","axis":{"title":"Expression (rel. to Ddx4)","values":[0,0.5,1,1.5],"format":".1f"}}}}
]},
{"title":"Ddx4","width":122,"height":177,"resolve":{"scale":{"xOffset":"independent"}},"layer":[
{"data":{"name":"sum"},"transform":[{"filter":"datum.panel==='A6'"}],"mark":"bar","encoding":{"x":{"field":"group","type":"nominal","scale":{"domain":["Wt","Hom"],"paddingInner":0.33,"paddingOuter":0.22},"axis":{"title":null}},"y":{"field":"mean","type":"quantitative","scale":{"domain":[0,5],"nice":false},"axis":{"title":"Expression (rel. to Tbp)","values":[0,1,2,3,4,5],"format":"d"}}}},
{"data":{"name":"pts"},"transform":[{"filter":"datum.panel==='A6'"}],"mark":"point","encoding":{"x":{"field":"group","type":"nominal","axis":{"title":null}},"xOffset":{"field":"lane","type":"quantitative","scale":{"domain":[-2.5,2.5],"range":[0,38.7]}},"y":{"field":"value","type":"quantitative","axis":{"title":"Expression (rel. to Tbp)","values":[0,1,2,3,4,5],"format":"d"}},"shape":{"field":"group","type":"nominal","scale":{"domain":["Wt","Hom"],"range":["triangle-down","circle"]}},"fill":{"field":"group","type":"nominal","scale":{"domain":["Wt","Hom"],"range":["black","transparent"]}}}},
{"data":{"name":"sum"},"transform":[{"filter":"datum.panel==='A6'"}],"mark":{"type":"errorbar","color":"black","thickness":1.4,"ticks":{"size":22,"thickness":1.4}},"encoding":{"x":{"field":"group","type":"nominal","axis":{"title":null}},"y":{"field":"mean","type":"quantitative","axis":{"title":"Expression (rel. to Tbp)","values":[0,1,2,3,4,5],"format":"d"}},"yError":{"field":"sem"}}},
{"data":{"name":"sig"},"transform":[{"filter":"datum.panel==='A6'"}],"mark":"rule","encoding":{"x":{"datum":"Wt"},"x2":{"datum":"Hom"},"y":{"field":"bracket","type":"quantitative","axis":{"title":"Expression (rel. to Tbp)","values":[0,1,2,3,4,5],"format":"d"}}}},
{"data":{"name":"sig"},"transform":[{"filter":"datum.panel==='A6'"}],"mark":"text","encoding":{"text":{"field":"label"},"y":{"field":"bracket","type":"quantitative","axis":{"title":"Expression (rel. to Tbp)","values":[0,1,2,3,4,5],"format":"d"}}}}
]}
]}]},
{"title":{"text":"B)","anchor":"start","fontSize":13,"fontStyle":"normal","fontWeight":"bold","offset":2,"color":"black"},
"vconcat":[{"title":{"text":"Stra8 RARE3 Mutant","orient":"left","anchor":"middle","fontSize":14,"fontStyle":"normal","fontWeight":"bold","offset":12,"color":"black"},"spacing":48,
"hconcat":[
{"title":"Stra8","width":122,"height":177,"resolve":{"scale":{"xOffset":"independent"}},"layer":[
{"data":{"name":"sum"},"transform":[{"filter":"datum.panel==='B1'"}],"mark":"bar","encoding":{"x":{"field":"group","type":"nominal","scale":{"domain":["Wt","Hom"],"paddingInner":0.33,"paddingOuter":0.22},"axis":{"title":null}},"y":{"field":"mean","type":"quantitative","scale":{"domain":[0,5],"nice":false},"axis":{"title":"Expression (rel. to Ddx4)","values":[0,1,2,3,4,5],"format":"d"}}}},
{"data":{"name":"pts"},"transform":[{"filter":"datum.panel==='B1'"}],"mark":"point","encoding":{"x":{"field":"group","type":"nominal","axis":{"title":null}},"xOffset":{"field":"lane","type":"quantitative","scale":{"domain":[-2.5,2.5],"range":[0,38.7]}},"y":{"field":"value","type":"quantitative","axis":{"title":"Expression (rel. to Ddx4)","values":[0,1,2,3,4,5],"format":"d"}},"shape":{"field":"group","type":"nominal","scale":{"domain":["Wt","Hom"],"range":["triangle-down","circle"]}},"fill":{"field":"group","type":"nominal","scale":{"domain":["Wt","Hom"],"range":["black","transparent"]}}}},
{"data":{"name":"sum"},"transform":[{"filter":"datum.panel==='B1'"}],"mark":{"type":"errorbar","color":"black","thickness":1.4,"ticks":{"size":22,"thickness":1.4}},"encoding":{"x":{"field":"group","type":"nominal","axis":{"title":null}},"y":{"field":"mean","type":"quantitative","axis":{"title":"Expression (rel. to Ddx4)","values":[0,1,2,3,4,5],"format":"d"}},"yError":{"field":"sem"}}},
{"data":{"name":"sig"},"transform":[{"filter":"datum.panel==='B1'"}],"mark":"rule","encoding":{"x":{"datum":"Wt"},"x2":{"datum":"Hom"},"y":{"field":"bracket","type":"quantitative","axis":{"title":"Expression (rel. to Ddx4)","values":[0,1,2,3,4,5],"format":"d"}}}},
{"data":{"name":"sig"},"transform":[{"filter":"datum.panel==='B1'"}],"mark":"text","encoding":{"text":{"field":"label"},"y":{"field":"bracket","type":"quantitative","axis":{"title":"Expression (rel. to Ddx4)","values":[0,1,2,3,4,5],"format":"d"}}}}
]},
{"title":"Sycp3","width":122,"height":177,"resolve":{"scale":{"xOffset":"independent"}},"layer":[
{"data":{"name":"sum"},"transform":[{"filter":"datum.panel==='B2'"}],"mark":"bar","encoding":{"x":{"field":"group","type":"nominal","scale":{"domain":["Wt","Hom"],"paddingInner":0.33,"paddingOuter":0.22},"axis":{"title":null}},"y":{"field":"mean","type":"quantitative","scale":{"domain":[0,4],"nice":false},"axis":{"title":"Expression (rel. to Ddx4)","values":[0,1,2,3,4],"format":"d"}}}},
{"data":{"name":"pts"},"transform":[{"filter":"datum.panel==='B2'"}],"mark":"point","encoding":{"x":{"field":"group","type":"nominal","axis":{"title":null}},"xOffset":{"field":"lane","type":"quantitative","scale":{"domain":[-2.5,2.5],"range":[0,38.7]}},"y":{"field":"value","type":"quantitative","axis":{"title":"Expression (rel. to Ddx4)","values":[0,1,2,3,4],"format":"d"}},"shape":{"field":"group","type":"nominal","scale":{"domain":["Wt","Hom"],"range":["triangle-down","circle"]}},"fill":{"field":"group","type":"nominal","scale":{"domain":["Wt","Hom"],"range":["black","transparent"]}}}},
{"data":{"name":"sum"},"transform":[{"filter":"datum.panel==='B2'"}],"mark":{"type":"errorbar","color":"black","thickness":1.4,"ticks":{"size":22,"thickness":1.4}},"encoding":{"x":{"field":"group","type":"nominal","axis":{"title":null}},"y":{"field":"mean","type":"quantitative","axis":{"title":"Expression (rel. to Ddx4)","values":[0,1,2,3,4],"format":"d"}},"yError":{"field":"sem"}}},
{"data":{"name":"sig"},"transform":[{"filter":"datum.panel==='B2'"}],"mark":"rule","encoding":{"x":{"datum":"Wt"},"x2":{"datum":"Hom"},"y":{"field":"bracket","type":"quantitative","axis":{"title":"Expression (rel. to Ddx4)","values":[0,1,2,3,4],"format":"d"}}}},
{"data":{"name":"sig"},"transform":[{"filter":"datum.panel==='B2'"}],"mark":"text","encoding":{"text":{"field":"label"},"y":{"field":"bracket","type":"quantitative","axis":{"title":"Expression (rel. to Ddx4)","values":[0,1,2,3,4],"format":"d"}}}}
]},
{"title":"Rec8","width":122,"height":177,"resolve":{"scale":{"xOffset":"independent"}},"layer":[
{"data":{"name":"sum"},"transform":[{"filter":"datum.panel==='B3'"}],"mark":"bar","encoding":{"x":{"field":"group","type":"nominal","scale":{"domain":["Wt","Hom"],"paddingInner":0.33,"paddingOuter":0.22},"axis":{"title":null}},"y":{"field":"mean","type":"quantitative","scale":{"domain":[0,4],"nice":false},"axis":{"title":"Expression (rel. to Ddx4)","values":[0,1,2,3,4],"format":"d"}}}},
{"data":{"name":"pts"},"transform":[{"filter":"datum.panel==='B3'"}],"mark":"point","encoding":{"x":{"field":"group","type":"nominal","axis":{"title":null}},"xOffset":{"field":"lane","type":"quantitative","scale":{"domain":[-2.5,2.5],"range":[0,38.7]}},"y":{"field":"value","type":"quantitative","axis":{"title":"Expression (rel. to Ddx4)","values":[0,1,2,3,4],"format":"d"}},"shape":{"field":"group","type":"nominal","scale":{"domain":["Wt","Hom"],"range":["triangle-down","circle"]}},"fill":{"field":"group","type":"nominal","scale":{"domain":["Wt","Hom"],"range":["black","transparent"]}}}},
{"data":{"name":"sum"},"transform":[{"filter":"datum.panel==='B3'"}],"mark":{"type":"errorbar","color":"black","thickness":1.4,"ticks":{"size":22,"thickness":1.4}},"encoding":{"x":{"field":"group","type":"nominal","axis":{"title":null}},"y":{"field":"mean","type":"quantitative","axis":{"title":"Expression (rel. to Ddx4)","values":[0,1,2,3,4],"format":"d"}},"yError":{"field":"sem"}}},
{"data":{"name":"sig"},"transform":[{"filter":"datum.panel==='B3'"}],"mark":"rule","encoding":{"x":{"datum":"Wt"},"x2":{"datum":"Hom"},"y":{"field":"bracket","type":"quantitative","axis":{"title":"Expression (rel. to Ddx4)","values":[0,1,2,3,4],"format":"d"}}}},
{"data":{"name":"sig"},"transform":[{"filter":"datum.panel==='B3'"}],"mark":"text","encoding":{"text":{"field":"label"},"y":{"field":"bracket","type":"quantitative","axis":{"title":"Expression (rel. to Ddx4)","values":[0,1,2,3,4],"format":"d"}}}}
]},
{"title":"Dmc1","width":122,"height":177,"resolve":{"scale":{"xOffset":"independent"}},"layer":[
{"data":{"name":"sum"},"transform":[{"filter":"datum.panel==='B4'"}],"mark":"bar","encoding":{"x":{"field":"group","type":"nominal","scale":{"domain":["Wt","Hom"],"paddingInner":0.33,"paddingOuter":0.22},"axis":{"title":null}},"y":{"field":"mean","type":"quantitative","scale":{"domain":[0,2.5],"nice":false},"axis":{"title":"Expression (rel. to Ddx4)","values":[0,0.5,1,1.5,2,2.5],"format":".1f"}}}},
{"data":{"name":"pts"},"transform":[{"filter":"datum.panel==='B4'"}],"mark":"point","encoding":{"x":{"field":"group","type":"nominal","axis":{"title":null}},"xOffset":{"field":"lane","type":"quantitative","scale":{"domain":[-2.5,2.5],"range":[0,38.7]}},"y":{"field":"value","type":"quantitative","axis":{"title":"Expression (rel. to Ddx4)","values":[0,0.5,1,1.5,2,2.5],"format":".1f"}},"shape":{"field":"group","type":"nominal","scale":{"domain":["Wt","Hom"],"range":["triangle-down","circle"]}},"fill":{"field":"group","type":"nominal","scale":{"domain":["Wt","Hom"],"range":["black","transparent"]}}}},
{"data":{"name":"sum"},"transform":[{"filter":"datum.panel==='B4'"}],"mark":{"type":"errorbar","color":"black","thickness":1.4,"ticks":{"size":22,"thickness":1.4}},"encoding":{"x":{"field":"group","type":"nominal","axis":{"title":null}},"y":{"field":"mean","type":"quantitative","axis":{"title":"Expression (rel. to Ddx4)","values":[0,0.5,1,1.5,2,2.5],"format":".1f"}},"yError":{"field":"sem"}}},
{"data":{"name":"sig"},"transform":[{"filter":"datum.panel==='B4'"}],"mark":"rule","encoding":{"x":{"datum":"Wt"},"x2":{"datum":"Hom"},"y":{"field":"bracket","type":"quantitative","axis":{"title":"Expression (rel. to Ddx4)","values":[0,0.5,1,1.5,2,2.5],"format":".1f"}}}},
{"data":{"name":"sig"},"transform":[{"filter":"datum.panel==='B4'"}],"mark":"text","encoding":{"text":{"field":"label"},"y":{"field":"bracket","type":"quantitative","axis":{"title":"Expression (rel. to Ddx4)","values":[0,0.5,1,1.5,2,2.5],"format":".1f"}}}}
]},
{"title":"Pou5f1","width":122,"height":177,"resolve":{"scale":{"xOffset":"independent"}},"layer":[
{"data":{"name":"sum"},"transform":[{"filter":"datum.panel==='B5'"}],"mark":"bar","encoding":{"x":{"field":"group","type":"nominal","scale":{"domain":["Wt","Hom"],"paddingInner":0.33,"paddingOuter":0.22},"axis":{"title":null}},"y":{"field":"mean","type":"quantitative","scale":{"domain":[0,1.5],"nice":false},"axis":{"title":"Expression (rel. to Ddx4)","values":[0,0.5,1,1.5],"format":".1f"}}}},
{"data":{"name":"pts"},"transform":[{"filter":"datum.panel==='B5'"}],"mark":"point","encoding":{"x":{"field":"group","type":"nominal","axis":{"title":null}},"xOffset":{"field":"lane","type":"quantitative","scale":{"domain":[-2.5,2.5],"range":[0,38.7]}},"y":{"field":"value","type":"quantitative","axis":{"title":"Expression (rel. to Ddx4)","values":[0,0.5,1,1.5],"format":".1f"}},"shape":{"field":"group","type":"nominal","scale":{"domain":["Wt","Hom"],"range":["triangle-down","circle"]}},"fill":{"field":"group","type":"nominal","scale":{"domain":["Wt","Hom"],"range":["black","transparent"]}}}},
{"data":{"name":"sum"},"transform":[{"filter":"datum.panel==='B5'"}],"mark":{"type":"errorbar","color":"black","thickness":1.4,"ticks":{"size":22,"thickness":1.4}},"encoding":{"x":{"field":"group","type":"nominal","axis":{"title":null}},"y":{"field":"mean","type":"quantitative","axis":{"title":"Expression (rel. to Ddx4)","values":[0,0.5,1,1.5],"format":".1f"}},"yError":{"field":"sem"}}},
{"data":{"name":"sig"},"transform":[{"filter":"datum.panel==='B5'"}],"mark":"rule","encoding":{"x":{"datum":"Wt"},"x2":{"datum":"Hom"},"y":{"field":"bracket","type":"quantitative","axis":{"title":"Expression (rel. to Ddx4)","values":[0,0.5,1,1.5],"format":".1f"}}}},
{"data":{"name":"sig"},"transform":[{"filter":"datum.panel==='B5'"}],"mark":"text","encoding":{"text":{"field":"label"},"y":{"field":"bracket","type":"quantitative","axis":{"title":"Expression (rel. to Ddx4)","values":[0,0.5,1,1.5],"format":".1f"}}}}
]},
{"title":"Ddx4","width":122,"height":177,"resolve":{"scale":{"xOffset":"independent"}},"layer":[
{"data":{"name":"sum"},"transform":[{"filter":"datum.panel==='B6'"}],"mark":"bar","encoding":{"x":{"field":"group","type":"nominal","scale":{"domain":["Wt","Hom"],"paddingInner":0.33,"paddingOuter":0.22},"axis":{"title":null}},"y":{"field":"mean","type":"quantitative","scale":{"domain":[0,1],"nice":false},"axis":{"title":"Expression (rel. to Tbp)","values":[0,0.2,0.4,0.6,0.8,1],"format":".1f"}}}},
{"data":{"name":"pts"},"transform":[{"filter":"datum.panel==='B6'"}],"mark":"point","encoding":{"x":{"field":"group","type":"nominal","axis":{"title":null}},"xOffset":{"field":"lane","type":"quantitative","scale":{"domain":[-2.5,2.5],"range":[0,38.7]}},"y":{"field":"value","type":"quantitative","axis":{"title":"Expression (rel. to Tbp)","values":[0,0.2,0.4,0.6,0.8,1],"format":".1f"}},"shape":{"field":"group","type":"nominal","scale":{"domain":["Wt","Hom"],"range":["triangle-down","circle"]}},"fill":{"field":"group","type":"nominal","scale":{"domain":["Wt","Hom"],"range":["black","transparent"]}}}},
{"data":{"name":"sum"},"transform":[{"filter":"datum.panel==='B6'"}],"mark":{"type":"errorbar","color":"black","thickness":1.4,"ticks":{"size":22,"thickness":1.4}},"encoding":{"x":{"field":"group","type":"nominal","axis":{"title":null}},"y":{"field":"mean","type":"quantitative","axis":{"title":"Expression (rel. to Tbp)","values":[0,0.2,0.4,0.6,0.8,1],"format":".1f"}},"yError":{"field":"sem"}}},
{"data":{"name":"sig"},"transform":[{"filter":"datum.panel==='B6'"}],"mark":"rule","encoding":{"x":{"datum":"Wt"},"x2":{"datum":"Hom"},"y":{"field":"bracket","type":"quantitative","axis":{"title":"Expression (rel. to Tbp)","values":[0,0.2,0.4,0.6,0.8,1],"format":".1f"}}}},
{"data":{"name":"sig"},"transform":[{"filter":"datum.panel==='B6'"}],"mark":"text","encoding":{"text":{"field":"label"},"y":{"field":"bracket","type":"quantitative","axis":{"title":"Expression (rel. to Tbp)","values":[0,0.2,0.4,0.6,0.8,1],"format":".1f"}}}}
]}
]}]},
{"title":{"text":"C)","anchor":"start","fontSize":13,"fontStyle":"normal","fontWeight":"bold","offset":2,"color":"black"},
"vconcat":[{"title":{"text":"Stra8 RARE1+3 Mutant","orient":"left","anchor":"middle","fontSize":14,"fontStyle":"normal","fontWeight":"bold","offset":12,"color":"black"},"spacing":48,
"hconcat":[
{"title":"Stra8","width":122,"height":177,"resolve":{"scale":{"xOffset":"independent"}},"layer":[
{"data":{"name":"sum"},"transform":[{"filter":"datum.panel==='C1'"}],"mark":"bar","encoding":{"x":{"field":"group","type":"nominal","scale":{"domain":["Wt","Hom"],"paddingInner":0.33,"paddingOuter":0.22},"axis":{"title":null}},"y":{"field":"mean","type":"quantitative","scale":{"domain":[0,6],"nice":false},"axis":{"title":"Expression (rel. to Ddx4)","values":[0,2,4,6],"format":"d"}}}},
{"data":{"name":"pts"},"transform":[{"filter":"datum.panel==='C1'"}],"mark":"point","encoding":{"x":{"field":"group","type":"nominal","axis":{"title":null}},"xOffset":{"field":"lane","type":"quantitative","scale":{"domain":[-2.5,2.5],"range":[0,38.7]}},"y":{"field":"value","type":"quantitative","axis":{"title":"Expression (rel. to Ddx4)","values":[0,2,4,6],"format":"d"}},"shape":{"field":"group","type":"nominal","scale":{"domain":["Wt","Hom"],"range":["triangle-down","circle"]}},"fill":{"field":"group","type":"nominal","scale":{"domain":["Wt","Hom"],"range":["black","transparent"]}}}},
{"data":{"name":"sum"},"transform":[{"filter":"datum.panel==='C1'"}],"mark":{"type":"errorbar","color":"black","thickness":1.4,"ticks":{"size":22,"thickness":1.4}},"encoding":{"x":{"field":"group","type":"nominal","axis":{"title":null}},"y":{"field":"mean","type":"quantitative","axis":{"title":"Expression (rel. to Ddx4)","values":[0,2,4,6],"format":"d"}},"yError":{"field":"sem"}}},
{"data":{"name":"sig"},"transform":[{"filter":"datum.panel==='C1'"}],"mark":"rule","encoding":{"x":{"datum":"Wt"},"x2":{"datum":"Hom"},"y":{"field":"bracket","type":"quantitative","axis":{"title":"Expression (rel. to Ddx4)","values":[0,2,4,6],"format":"d"}}}},
{"data":{"name":"sig"},"transform":[{"filter":"datum.panel==='C1'"}],"mark":"text","encoding":{"text":{"field":"label"},"y":{"field":"bracket","type":"quantitative","axis":{"title":"Expression (rel. to Ddx4)","values":[0,2,4,6],"format":"d"}}}}
]},
{"title":"Sycp3","width":122,"height":177,"resolve":{"scale":{"xOffset":"independent"}},"layer":[
{"data":{"name":"sum"},"transform":[{"filter":"datum.panel==='C2'"}],"mark":"bar","encoding":{"x":{"field":"group","type":"nominal","scale":{"domain":["Wt","Hom"],"paddingInner":0.33,"paddingOuter":0.22},"axis":{"title":null}},"y":{"field":"mean","type":"quantitative","scale":{"domain":[0,3],"nice":false},"axis":{"title":"Expression (rel. to Ddx4)","values":[0,1,2,3],"format":"d"}}}},
{"data":{"name":"pts"},"transform":[{"filter":"datum.panel==='C2'"}],"mark":"point","encoding":{"x":{"field":"group","type":"nominal","axis":{"title":null}},"xOffset":{"field":"lane","type":"quantitative","scale":{"domain":[-2.5,2.5],"range":[0,38.7]}},"y":{"field":"value","type":"quantitative","axis":{"title":"Expression (rel. to Ddx4)","values":[0,1,2,3],"format":"d"}},"shape":{"field":"group","type":"nominal","scale":{"domain":["Wt","Hom"],"range":["triangle-down","circle"]}},"fill":{"field":"group","type":"nominal","scale":{"domain":["Wt","Hom"],"range":["black","transparent"]}}}},
{"data":{"name":"sum"},"transform":[{"filter":"datum.panel==='C2'"}],"mark":{"type":"errorbar","color":"black","thickness":1.4,"ticks":{"size":22,"thickness":1.4}},"encoding":{"x":{"field":"group","type":"nominal","axis":{"title":null}},"y":{"field":"mean","type":"quantitative","axis":{"title":"Expression (rel. to Ddx4)","values":[0,1,2,3],"format":"d"}},"yError":{"field":"sem"}}},
{"data":{"name":"sig"},"transform":[{"filter":"datum.panel==='C2'"}],"mark":"rule","encoding":{"x":{"datum":"Wt"},"x2":{"datum":"Hom"},"y":{"field":"bracket","type":"quantitative","axis":{"title":"Expression (rel. to Ddx4)","values":[0,1,2,3],"format":"d"}}}},
{"data":{"name":"sig"},"transform":[{"filter":"datum.panel==='C2'"}],"mark":"text","encoding":{"text":{"field":"label"},"y":{"field":"bracket","type":"quantitative","axis":{"title":"Expression (rel. to Ddx4)","values":[0,1,2,3],"format":"d"}}}}
]},
{"title":"Rec8","width":122,"height":177,"resolve":{"scale":{"xOffset":"independent"}},"layer":[
{"data":{"name":"sum"},"transform":[{"filter":"datum.panel==='C3'"}],"mark":"bar","encoding":{"x":{"field":"group","type":"nominal","scale":{"domain":["Wt","Hom"],"paddingInner":0.33,"paddingOuter":0.22},"axis":{"title":null}},"y":{"field":"mean","type":"quantitative","scale":{"domain":[0,3],"nice":false},"axis":{"title":"Expression (rel. to Ddx4)","values":[0,1,2,3],"format":"d"}}}},
{"data":{"name":"pts"},"transform":[{"filter":"datum.panel==='C3'"}],"mark":"point","encoding":{"x":{"field":"group","type":"nominal","axis":{"title":null}},"xOffset":{"field":"lane","type":"quantitative","scale":{"domain":[-2.5,2.5],"range":[0,38.7]}},"y":{"field":"value","type":"quantitative","axis":{"title":"Expression (rel. to Ddx4)","values":[0,1,2,3],"format":"d"}},"shape":{"field":"group","type":"nominal","scale":{"domain":["Wt","Hom"],"range":["triangle-down","circle"]}},"fill":{"field":"group","type":"nominal","scale":{"domain":["Wt","Hom"],"range":["black","transparent"]}}}},
{"data":{"name":"sum"},"transform":[{"filter":"datum.panel==='C3'"}],"mark":{"type":"errorbar","color":"black","thickness":1.4,"ticks":{"size":22,"thickness":1.4}},"encoding":{"x":{"field":"group","type":"nominal","axis":{"title":null}},"y":{"field":"mean","type":"quantitative","axis":{"title":"Expression (rel. to Ddx4)","values":[0,1,2,3],"format":"d"}},"yError":{"field":"sem"}}},
{"data":{"name":"sig"},"transform":[{"filter":"datum.panel==='C3'"}],"mark":"rule","encoding":{"x":{"datum":"Wt"},"x2":{"datum":"Hom"},"y":{"field":"bracket","type":"quantitative","axis":{"title":"Expression (rel. to Ddx4)","values":[0,1,2,3],"format":"d"}}}},
{"data":{"name":"sig"},"transform":[{"filter":"datum.panel==='C3'"}],"mark":"text","encoding":{"text":{"field":"label"},"y":{"field":"bracket","type":"quantitative","axis":{"title":"Expression (rel. to Ddx4)","values":[0,1,2,3],"format":"d"}}}}
]},
{"title":"Dmc1","width":122,"height":177,"resolve":{"scale":{"xOffset":"independent"}},"layer":[
{"data":{"name":"sum"},"transform":[{"filter":"datum.panel==='C4'"}],"mark":"bar","encoding":{"x":{"field":"group","type":"nominal","scale":{"domain":["Wt","Hom"],"paddingInner":0.33,"paddingOuter":0.22},"axis":{"title":null}},"y":{"field":"mean","type":"quantitative","scale":{"domain":[0,2.5],"nice":false},"axis":{"title":"Expression (rel. to Ddx4)","values":[0,0.5,1,1.5,2,2.5],"format":".1f","labelExpr":"datum.value == 2 ? '1.0' : format(datum.value, '.1f')"}}}},
{"data":{"name":"pts"},"transform":[{"filter":"datum.panel==='C4'"}],"mark":"point","encoding":{"x":{"field":"group","type":"nominal","axis":{"title":null}},"xOffset":{"field":"lane","type":"quantitative","scale":{"domain":[-2.5,2.5],"range":[0,38.7]}},"y":{"field":"value","type":"quantitative","axis":{"title":"Expression (rel. to Ddx4)","values":[0,0.5,1,1.5,2,2.5],"format":".1f","labelExpr":"datum.value == 2 ? '1.0' : format(datum.value, '.1f')"}},"shape":{"field":"group","type":"nominal","scale":{"domain":["Wt","Hom"],"range":["triangle-down","circle"]}},"fill":{"field":"group","type":"nominal","scale":{"domain":["Wt","Hom"],"range":["black","transparent"]}}}},
{"data":{"name":"sum"},"transform":[{"filter":"datum.panel==='C4'"}],"mark":{"type":"errorbar","color":"black","thickness":1.4,"ticks":{"size":22,"thickness":1.4}},"encoding":{"x":{"field":"group","type":"nominal","axis":{"title":null}},"y":{"field":"mean","type":"quantitative","axis":{"title":"Expression (rel. to Ddx4)","values":[0,0.5,1,1.5,2,2.5],"format":".1f","labelExpr":"datum.value == 2 ? '1.0' : format(datum.value, '.1f')"}},"yError":{"field":"sem"}}},
{"data":{"name":"sig"},"transform":[{"filter":"datum.panel==='C4'"}],"mark":"rule","encoding":{"x":{"datum":"Wt"},"x2":{"datum":"Hom"},"y":{"field":"bracket","type":"quantitative","axis":{"title":"Expression (rel. to Ddx4)","values":[0,0.5,1,1.5,2,2.5],"format":".1f","labelExpr":"datum.value == 2 ? '1.0' : format(datum.value, '.1f')"}}}},
{"data":{"name":"sig"},"transform":[{"filter":"datum.panel==='C4'"}],"mark":"text","encoding":{"text":{"field":"label"},"y":{"field":"bracket","type":"quantitative","axis":{"title":"Expression (rel. to Ddx4)","values":[0,0.5,1,1.5,2,2.5],"format":".1f","labelExpr":"datum.value == 2 ? '1.0' : format(datum.value, '.1f')"}}}}
]},
{"title":"Pou5f1","width":122,"height":177,"resolve":{"scale":{"xOffset":"independent"}},"layer":[
{"data":{"name":"sum"},"transform":[{"filter":"datum.panel==='C5'"}],"mark":"bar","encoding":{"x":{"field":"group","type":"nominal","scale":{"domain":["Wt","Hom"],"paddingInner":0.33,"paddingOuter":0.22},"axis":{"title":null}},"y":{"field":"mean","type":"quantitative","scale":{"domain":[0,1.5],"nice":false},"axis":{"title":"Expression (rel. to Ddx4)","values":[0,0.5,1,1.5],"format":".1f"}}}},
{"data":{"name":"pts"},"transform":[{"filter":"datum.panel==='C5'"}],"mark":"point","encoding":{"x":{"field":"group","type":"nominal","axis":{"title":null}},"xOffset":{"field":"lane","type":"quantitative","scale":{"domain":[-2.5,2.5],"range":[0,38.7]}},"y":{"field":"value","type":"quantitative","axis":{"title":"Expression (rel. to Ddx4)","values":[0,0.5,1,1.5],"format":".1f"}},"shape":{"field":"group","type":"nominal","scale":{"domain":["Wt","Hom"],"range":["triangle-down","circle"]}},"fill":{"field":"group","type":"nominal","scale":{"domain":["Wt","Hom"],"range":["black","transparent"]}}}},
{"data":{"name":"sum"},"transform":[{"filter":"datum.panel==='C5'"}],"mark":{"type":"errorbar","color":"black","thickness":1.4,"ticks":{"size":22,"thickness":1.4}},"encoding":{"x":{"field":"group","type":"nominal","axis":{"title":null}},"y":{"field":"mean","type":"quantitative","axis":{"title":"Expression (rel. to Ddx4)","values":[0,0.5,1,1.5],"format":".1f"}},"yError":{"field":"sem"}}},
{"data":{"name":"sig"},"transform":[{"filter":"datum.panel==='C5'"}],"mark":"rule","encoding":{"x":{"datum":"Wt"},"x2":{"datum":"Hom"},"y":{"field":"bracket","type":"quantitative","axis":{"title":"Expression (rel. to Ddx4)","values":[0,0.5,1,1.5],"format":".1f"}}}},
{"data":{"name":"sig"},"transform":[{"filter":"datum.panel==='C5'"}],"mark":"text","encoding":{"text":{"field":"label"},"y":{"field":"bracket","type":"quantitative","axis":{"title":"Expression (rel. to Ddx4)","values":[0,0.5,1,1.5],"format":".1f"}}}}
]},
{"title":"Ddx4","width":122,"height":177,"resolve":{"scale":{"xOffset":"independent"}},"layer":[
{"data":{"name":"sum"},"transform":[{"filter":"datum.panel==='C6'"}],"mark":"bar","encoding":{"x":{"field":"group","type":"nominal","scale":{"domain":["Wt","Hom"],"paddingInner":0.33,"paddingOuter":0.22},"axis":{"title":null}},"y":{"field":"mean","type":"quantitative","scale":{"domain":[0,1.5],"nice":false},"axis":{"title":"Expression (rel. to Tbp)","values":[0,0.5,1,1.5],"format":".1f"}}}},
{"data":{"name":"pts"},"transform":[{"filter":"datum.panel==='C6'"}],"mark":"point","encoding":{"x":{"field":"group","type":"nominal","axis":{"title":null}},"xOffset":{"field":"lane","type":"quantitative","scale":{"domain":[-2.5,2.5],"range":[0,38.7]}},"y":{"field":"value","type":"quantitative","axis":{"title":"Expression (rel. to Tbp)","values":[0,0.5,1,1.5],"format":".1f"}},"shape":{"field":"group","type":"nominal","scale":{"domain":["Wt","Hom"],"range":["triangle-down","circle"]}},"fill":{"field":"group","type":"nominal","scale":{"domain":["Wt","Hom"],"range":["black","transparent"]}}}},
{"data":{"name":"sum"},"transform":[{"filter":"datum.panel==='C6'"}],"mark":{"type":"errorbar","color":"black","thickness":1.4,"ticks":{"size":22,"thickness":1.4}},"encoding":{"x":{"field":"group","type":"nominal","axis":{"title":null}},"y":{"field":"mean","type":"quantitative","axis":{"title":"Expression (rel. to Tbp)","values":[0,0.5,1,1.5],"format":".1f"}},"yError":{"field":"sem"}}},
{"data":{"name":"sig"},"transform":[{"filter":"datum.panel==='C6'"}],"mark":"rule","encoding":{"x":{"datum":"Wt"},"x2":{"datum":"Hom"},"y":{"field":"bracket","type":"quantitative","axis":{"title":"Expression (rel. to Tbp)","values":[0,0.5,1,1.5],"format":".1f"}}}},
{"data":{"name":"sig"},"transform":[{"filter":"datum.panel==='C6'"}],"mark":"text","encoding":{"text":{"field":"label"},"y":{"field":"bracket","type":"quantitative","axis":{"title":"Expression (rel. to Tbp)","values":[0,0.5,1,1.5],"format":".1f"}}}}
]}
]}]},
{"title":{"text":"D)","anchor":"start","fontSize":13,"fontStyle":"normal","fontWeight":"bold","offset":2,"color":"black"},
"vconcat":[{"title":{"text":"Stra8 Δ173bp Mutant","orient":"left","anchor":"middle","fontSize":14,"fontStyle":"normal","fontWeight":"bold","offset":12,"color":"black"},"spacing":48,
"hconcat":[
{"title":"Stra8","width":122,"height":177,"resolve":{"scale":{"xOffset":"independent"}},"layer":[
{"data":{"name":"sum"},"transform":[{"filter":"datum.panel==='D1'"}],"mark":"bar","encoding":{"x":{"field":"group","type":"nominal","scale":{"domain":["Wt","Hom"],"paddingInner":0.33,"paddingOuter":0.22},"axis":{"title":null}},"y":{"field":"mean","type":"quantitative","scale":{"domain":[0,8],"nice":false},"axis":{"title":"Expression (rel. to Ddx4)","values":[0,2,4,6,8],"format":"d"}}}},
{"data":{"name":"pts"},"transform":[{"filter":"datum.panel==='D1'"}],"mark":"point","encoding":{"x":{"field":"group","type":"nominal","axis":{"title":null}},"xOffset":{"field":"lane","type":"quantitative","scale":{"domain":[-2.5,2.5],"range":[0,38.7]}},"y":{"field":"value","type":"quantitative","axis":{"title":"Expression (rel. to Ddx4)","values":[0,2,4,6,8],"format":"d"}},"shape":{"field":"group","type":"nominal","scale":{"domain":["Wt","Hom"],"range":["triangle-down","circle"]}},"fill":{"field":"group","type":"nominal","scale":{"domain":["Wt","Hom"],"range":["black","transparent"]}}}},
{"data":{"name":"sum"},"transform":[{"filter":"datum.panel==='D1'"}],"mark":{"type":"errorbar","color":"black","thickness":1.4,"ticks":{"size":22,"thickness":1.4}},"encoding":{"x":{"field":"group","type":"nominal","axis":{"title":null}},"y":{"field":"mean","type":"quantitative","axis":{"title":"Expression (rel. to Ddx4)","values":[0,2,4,6,8],"format":"d"}},"yError":{"field":"sem"}}},
{"data":{"name":"sig"},"transform":[{"filter":"datum.panel==='D1'"}],"mark":"rule","encoding":{"x":{"datum":"Wt"},"x2":{"datum":"Hom"},"y":{"field":"bracket","type":"quantitative","axis":{"title":"Expression (rel. to Ddx4)","values":[0,2,4,6,8],"format":"d"}}}},
{"data":{"name":"sig"},"transform":[{"filter":"datum.panel==='D1'"}],"mark":"text","encoding":{"text":{"field":"label"},"y":{"field":"bracket","type":"quantitative","axis":{"title":"Expression (rel. to Ddx4)","values":[0,2,4,6,8],"format":"d"}}}}
]},
{"title":"Sycp3","width":122,"height":177,"resolve":{"scale":{"xOffset":"independent"}},"layer":[
{"data":{"name":"sum"},"transform":[{"filter":"datum.panel==='D2'"}],"mark":"bar","encoding":{"x":{"field":"group","type":"nominal","scale":{"domain":["Wt","Hom"],"paddingInner":0.33,"paddingOuter":0.22},"axis":{"title":null}},"y":{"field":"mean","type":"quantitative","scale":{"domain":[0,1.5],"nice":false},"axis":{"title":"Expression (rel. to Ddx4)","values":[0,0.5,1,1.5],"format":".1f"}}}},
{"data":{"name":"pts"},"transform":[{"filter":"datum.panel==='D2'"}],"mark":"point","encoding":{"x":{"field":"group","type":"nominal","axis":{"title":null}},"xOffset":{"field":"lane","type":"quantitative","scale":{"domain":[-2.5,2.5],"range":[0,38.7]}},"y":{"field":"value","type":"quantitative","axis":{"title":"Expression (rel. to Ddx4)","values":[0,0.5,1,1.5],"format":".1f"}},"shape":{"field":"group","type":"nominal","scale":{"domain":["Wt","Hom"],"range":["triangle-down","circle"]}},"fill":{"field":"group","type":"nominal","scale":{"domain":["Wt","Hom"],"range":["black","transparent"]}}}},
{"data":{"name":"sum"},"transform":[{"filter":"datum.panel==='D2'"}],"mark":{"type":"errorbar","color":"black","thickness":1.4,"ticks":{"size":22,"thickness":1.4}},"encoding":{"x":{"field":"group","type":"nominal","axis":{"title":null}},"y":{"field":"mean","type":"quantitative","axis":{"title":"Expression (rel. to Ddx4)","values":[0,0.5,1,1.5],"format":".1f"}},"yError":{"field":"sem"}}},
{"data":{"name":"sig"},"transform":[{"filter":"datum.panel==='D2'"}],"mark":"rule","encoding":{"x":{"datum":"Wt"},"x2":{"datum":"Hom"},"y":{"field":"bracket","type":"quantitative","axis":{"title":"Expression (rel. to Ddx4)","values":[0,0.5,1,1.5],"format":".1f"}}}},
{"data":{"name":"sig"},"transform":[{"filter":"datum.panel==='D2'"}],"mark":"text","encoding":{"text":{"field":"label"},"y":{"field":"bracket","type":"quantitative","axis":{"title":"Expression (rel. to Ddx4)","values":[0,0.5,1,1.5],"format":".1f"}}}}
]},
{"title":"Rec8","width":122,"height":177,"resolve":{"scale":{"xOffset":"independent"}},"layer":[
{"data":{"name":"sum"},"transform":[{"filter":"datum.panel==='D3'"}],"mark":"bar","encoding":{"x":{"field":"group","type":"nominal","scale":{"domain":["Wt","Hom"],"paddingInner":0.33,"paddingOuter":0.22},"axis":{"title":null}},"y":{"field":"mean","type":"quantitative","scale":{"domain":[0,4],"nice":false},"axis":{"title":"Expression (rel. to Ddx4)","values":[0,1,2,3,4],"format":"d"}}}},
{"data":{"name":"pts"},"transform":[{"filter":"datum.panel==='D3'"}],"mark":"point","encoding":{"x":{"field":"group","type":"nominal","axis":{"title":null}},"xOffset":{"field":"lane","type":"quantitative","scale":{"domain":[-2.5,2.5],"range":[0,38.7]}},"y":{"field":"value","type":"quantitative","axis":{"title":"Expression (rel. to Ddx4)","values":[0,1,2,3,4],"format":"d"}},"shape":{"field":"group","type":"nominal","scale":{"domain":["Wt","Hom"],"range":["triangle-down","circle"]}},"fill":{"field":"group","type":"nominal","scale":{"domain":["Wt","Hom"],"range":["black","transparent"]}}}},
{"data":{"name":"sum"},"transform":[{"filter":"datum.panel==='D3'"}],"mark":{"type":"errorbar","color":"black","thickness":1.4,"ticks":{"size":22,"thickness":1.4}},"encoding":{"x":{"field":"group","type":"nominal","axis":{"title":null}},"y":{"field":"mean","type":"quantitative","axis":{"title":"Expression (rel. to Ddx4)","values":[0,1,2,3,4],"format":"d"}},"yError":{"field":"sem"}}},
{"data":{"name":"sig"},"transform":[{"filter":"datum.panel==='D3'"}],"mark":"rule","encoding":{"x":{"datum":"Wt"},"x2":{"datum":"Hom"},"y":{"field":"bracket","type":"quantitative","axis":{"title":"Expression (rel. to Ddx4)","values":[0,1,2,3,4],"format":"d"}}}},
{"data":{"name":"sig"},"transform":[{"filter":"datum.panel==='D3'"}],"mark":"text","encoding":{"text":{"field":"label"},"y":{"field":"bracket","type":"quantitative","axis":{"title":"Expression (rel. to Ddx4)","values":[0,1,2,3,4],"format":"d"}}}}
]},
{"title":"Dmc1","width":122,"height":177,"resolve":{"scale":{"xOffset":"independent"}},"layer":[
{"data":{"name":"sum"},"transform":[{"filter":"datum.panel==='D4'"}],"mark":"bar","encoding":{"x":{"field":"group","type":"nominal","scale":{"domain":["Wt","Hom"],"paddingInner":0.33,"paddingOuter":0.22},"axis":{"title":null}},"y":{"field":"mean","type":"quantitative","scale":{"domain":[0,1.5],"nice":false},"axis":{"title":"Expression (rel. to Ddx4)","values":[0,0.5,1,1.5],"format":".1f"}}}},
{"data":{"name":"pts"},"transform":[{"filter":"datum.panel==='D4'"}],"mark":"point","encoding":{"x":{"field":"group","type":"nominal","axis":{"title":null}},"xOffset":{"field":"lane","type":"quantitative","scale":{"domain":[-2.5,2.5],"range":[0,38.7]}},"y":{"field":"value","type":"quantitative","axis":{"title":"Expression (rel. to Ddx4)","values":[0,0.5,1,1.5],"format":".1f"}},"shape":{"field":"group","type":"nominal","scale":{"domain":["Wt","Hom"],"range":["triangle-down","circle"]}},"fill":{"field":"group","type":"nominal","scale":{"domain":["Wt","Hom"],"range":["black","transparent"]}}}},
{"data":{"name":"sum"},"transform":[{"filter":"datum.panel==='D4'"}],"mark":{"type":"errorbar","color":"black","thickness":1.4,"ticks":{"size":22,"thickness":1.4}},"encoding":{"x":{"field":"group","type":"nominal","axis":{"title":null}},"y":{"field":"mean","type":"quantitative","axis":{"title":"Expression (rel. to Ddx4)","values":[0,0.5,1,1.5],"format":".1f"}},"yError":{"field":"sem"}}},
{"data":{"name":"sig"},"transform":[{"filter":"datum.panel==='D4'"}],"mark":"rule","encoding":{"x":{"datum":"Wt"},"x2":{"datum":"Hom"},"y":{"field":"bracket","type":"quantitative","axis":{"title":"Expression (rel. to Ddx4)","values":[0,0.5,1,1.5],"format":".1f"}}}},
{"data":{"name":"sig"},"transform":[{"filter":"datum.panel==='D4'"}],"mark":"text","encoding":{"text":{"field":"label"},"y":{"field":"bracket","type":"quantitative","axis":{"title":"Expression (rel. to Ddx4)","values":[0,0.5,1,1.5],"format":".1f"}}}}
]},
{"title":"Pou5f1","width":122,"height":177,"resolve":{"scale":{"xOffset":"independent"}},"layer":[
{"data":{"name":"sum"},"transform":[{"filter":"datum.panel==='D5'"}],"mark":"bar","encoding":{"x":{"field":"group","type":"nominal","scale":{"domain":["Wt","Hom"],"paddingInner":0.33,"paddingOuter":0.22},"axis":{"title":null}},"y":{"field":"mean","type":"quantitative","scale":{"domain":[0,2.5],"nice":false},"axis":{"title":"Expression (rel. to Ddx4)","values":[0,0.5,1,1.5,2,2.5],"format":".1f"}}}},
{"data":{"name":"pts"},"transform":[{"filter":"datum.panel==='D5'"}],"mark":"point","encoding":{"x":{"field":"group","type":"nominal","axis":{"title":null}},"xOffset":{"field":"lane","type":"quantitative","scale":{"domain":[-2.5,2.5],"range":[0,38.7]}},"y":{"field":"value","type":"quantitative","axis":{"title":"Expression (rel. to Ddx4)","values":[0,0.5,1,1.5,2,2.5],"format":".1f"}},"shape":{"field":"group","type":"nominal","scale":{"domain":["Wt","Hom"],"range":["triangle-down","circle"]}},"fill":{"field":"group","type":"nominal","scale":{"domain":["Wt","Hom"],"range":["black","transparent"]}}}},
{"data":{"name":"sum"},"transform":[{"filter":"datum.panel==='D5'"}],"mark":{"type":"errorbar","color":"black","thickness":1.4,"ticks":{"size":22,"thickness":1.4}},"encoding":{"x":{"field":"group","type":"nominal","axis":{"title":null}},"y":{"field":"mean","type":"quantitative","axis":{"title":"Expression (rel. to Ddx4)","values":[0,0.5,1,1.5,2,2.5],"format":".1f"}},"yError":{"field":"sem"}}},
{"data":{"name":"sig"},"transform":[{"filter":"datum.panel==='D5'"}],"mark":"rule","encoding":{"x":{"datum":"Wt"},"x2":{"datum":"Hom"},"y":{"field":"bracket","type":"quantitative","axis":{"title":"Expression (rel. to Ddx4)","values":[0,0.5,1,1.5,2,2.5],"format":".1f"}}}},
{"data":{"name":"sig"},"transform":[{"filter":"datum.panel==='D5'"}],"mark":"text","encoding":{"text":{"field":"label"},"y":{"field":"bracket","type":"quantitative","axis":{"title":"Expression (rel. to Ddx4)","values":[0,0.5,1,1.5,2,2.5],"format":".1f"}}}}
]},
{"title":"Ddx4","width":122,"height":177,"resolve":{"scale":{"xOffset":"independent"}},"layer":[
{"data":{"name":"sum"},"transform":[{"filter":"datum.panel==='D6'"}],"mark":"bar","encoding":{"x":{"field":"group","type":"nominal","scale":{"domain":["Wt","Hom"],"paddingInner":0.33,"paddingOuter":0.22},"axis":{"title":null}},"y":{"field":"mean","type":"quantitative","scale":{"domain":[0,2],"nice":false},"axis":{"title":"Expression (rel. to Tbp)","values":[0,0.5,1,1.5,2],"format":".1f"}}}},
{"data":{"name":"pts"},"transform":[{"filter":"datum.panel==='D6'"}],"mark":"point","encoding":{"x":{"field":"group","type":"nominal","axis":{"title":null}},"xOffset":{"field":"lane","type":"quantitative","scale":{"domain":[-2.5,2.5],"range":[0,38.7]}},"y":{"field":"value","type":"quantitative","axis":{"title":"Expression (rel. to Tbp)","values":[0,0.5,1,1.5,2],"format":".1f"}},"shape":{"field":"group","type":"nominal","scale":{"domain":["Wt","Hom"],"range":["triangle-down","circle"]}},"fill":{"field":"group","type":"nominal","scale":{"domain":["Wt","Hom"],"range":["black","transparent"]}}}},
{"data":{"name":"sum"},"transform":[{"filter":"datum.panel==='D6'"}],"mark":{"type":"errorbar","color":"black","thickness":1.4,"ticks":{"size":22,"thickness":1.4}},"encoding":{"x":{"field":"group","type":"nominal","axis":{"title":null}},"y":{"field":"mean","type":"quantitative","axis":{"title":"Expression (rel. to Tbp)","values":[0,0.5,1,1.5,2],"format":".1f"}},"yError":{"field":"sem"}}},
{"data":{"name":"sig"},"transform":[{"filter":"datum.panel==='D6'"}],"mark":"rule","encoding":{"x":{"datum":"Wt"},"x2":{"datum":"Hom"},"y":{"field":"bracket","type":"quantitative","axis":{"title":"Expression (rel. to Tbp)","values":[0,0.5,1,1.5,2],"format":".1f"}}}},
{"data":{"name":"sig"},"transform":[{"filter":"datum.panel==='D6'"}],"mark":"text","encoding":{"text":{"field":"label"},"y":{"field":"bracket","type":"quantitative","axis":{"title":"Expression (rel. to Tbp)","values":[0,0.5,1,1.5,2],"format":".1f"}}}}
]}
]}]}
]
}
